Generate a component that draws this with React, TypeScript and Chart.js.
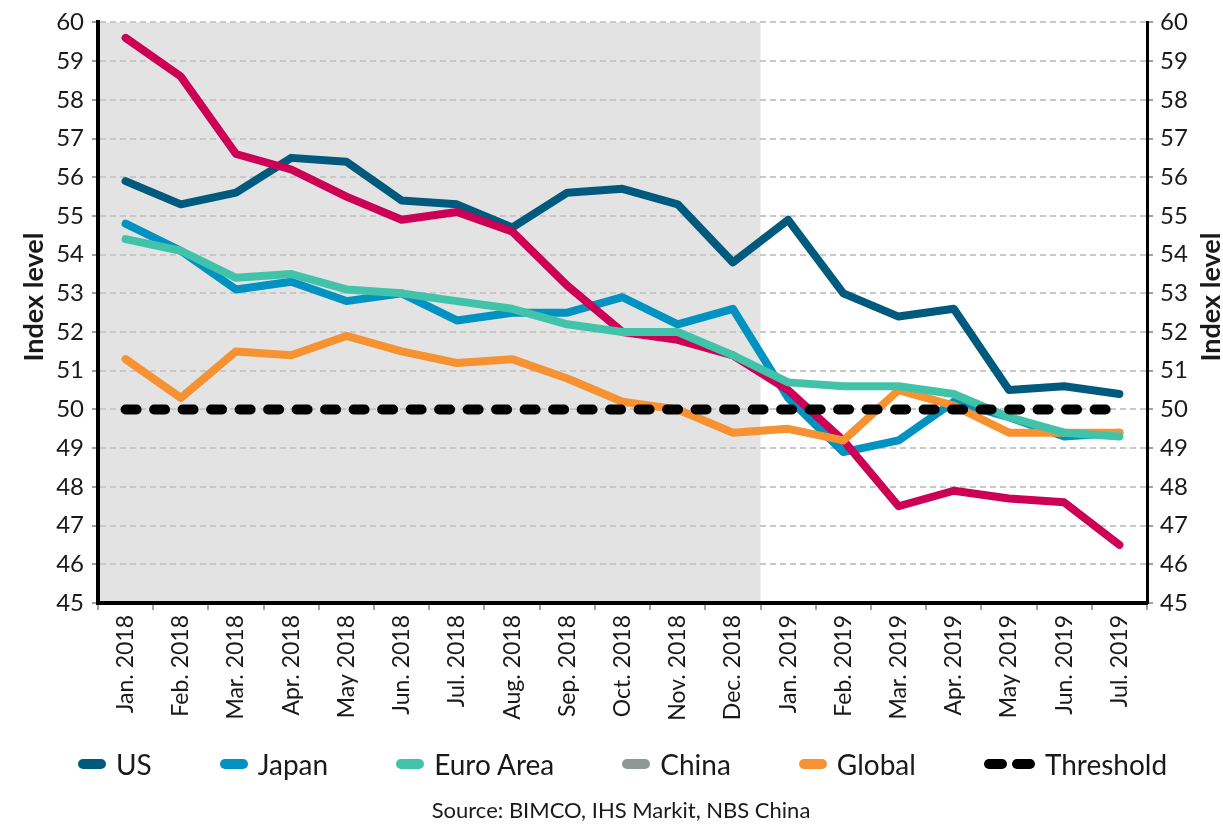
import React, { useEffect, useRef } from "react";
import { Chart, registerables } from "chart.js";

Chart.register(...registerables);

const categories = [
  "Jan. 2018", "Feb. 2018", "Mar. 2018", "Apr. 2018", "May 2018", "Jun. 2018",
  "Jul. 2018", "Aug. 2018", "Sep. 2018", "Oct. 2018", "Nov. 2018", "Dec. 2018",
  "Jan. 2019", "Feb. 2019", "Mar. 2019", "Apr. 2019", "May 2019", "Jun. 2019", "Jul. 2019",
];

const usValues = [55.9, 55.3, 55.6, 56.5, 56.4, 55.4, 55.3, 54.7, 55.6, 55.7, 55.3, 53.8, 54.9, 53.0, 52.4, 52.6, 50.5, 50.6, 50.4];
const japanValues = [54.8, 54.1, 53.1, 53.3, 52.8, 53.0, 52.3, 52.5, 52.5, 52.9, 52.2, 52.6, 50.3, 48.9, 49.2, 50.2, 49.8, 49.3, 49.4];
const euroValues = [54.4, 54.1, 53.4, 53.5, 53.1, 53.0, 52.8, 52.6, 52.2, 52.0, 52.0, 51.4, 50.7, 50.6, 50.6, 50.4, 49.8, 49.4, 49.3];
const chinaValues = [59.6, 58.6, 56.6, 56.2, 55.5, 54.9, 55.1, 54.6, 53.2, 52.0, 51.8, 51.4, 50.5, 49.2, 47.5, 47.9, 47.7, 47.6, 46.5];
const globalValues = [51.3, 50.3, 51.5, 51.4, 51.9, 51.5, 51.2, 51.3, 50.8, 50.2, 50.0, 49.4, 49.5, 49.2, 50.5, 50.1, 49.4, 49.4, 49.4];
const thresholdValues = [50, 50, 50, 50, 50, 50, 50, 50, 50, 50, 50, 50, 50, 50, 50, 50, 50, 50, 50];

const yMin = 45;
const yMax = 60;
const yStep = 1;
const shadeLastIndex = 11; // Dec. 2018
const yAxisTitle = "Index level";
const sourceText = "Source: BIMCO, IHS Markit, NBS China";

const legendItems = [
  { label: "US", color: "#005a7e", dashed: false },
  { label: "Japan", color: "#0093c1", dashed: false },
  { label: "Euro Area", color: "#41c3aa", dashed: false },
  { label: "China", color: "#8f9896", dashed: false },
  { label: "Global", color: "#f79233", dashed: false },
  { label: "Threshold", color: "#000000", dashed: true },
];

const W = 1223;
const H = 824;
const FONT = "Lato, 'Open Sans', sans-serif";
const TEXT = "#1a1a1a";

const shadePlugin = {
  id: "shade",
  beforeDraw(chart: any) {
    const { ctx, chartArea, scales } = chart;
    const x = scales.x;
    const right = (x.getPixelForValue(shadeLastIndex) + x.getPixelForValue(shadeLastIndex + 1)) / 2;
    ctx.save();
    ctx.fillStyle = "#e3e3e3";
    ctx.fillRect(chartArea.left, chartArea.top, right - chartArea.left, chartArea.bottom - chartArea.top);
    ctx.restore();
  },
};

export default function App() {
  const ref = useRef<HTMLCanvasElement | null>(null);

  useEffect(() => {
    if (!ref.current) return;
    const tickFont = { family: FONT, size: 24 };
    const line = (label: string, data: number[], color: string, order: number, extra: any = {}) => ({
      label,
      data,
      borderColor: color,
      backgroundColor: color,
      borderWidth: 8,
      pointRadius: 0,
      tension: 0,
      fill: false,
      borderCapStyle: "round",
      borderJoinStyle: "round",
      order,
      ...extra,
    });
    const chart = new Chart(ref.current, {
      type: "line",
      data: {
        labels: categories,
        datasets: [
          line("US", usValues, "#005a7e", 5),
          line("Japan", japanValues, "#0093c1", 4),
          line("Euro Area", euroValues, "#41c3aa", 1),
          line("China", chinaValues, "#cc0055", 3),
          line("Global", globalValues, "#f79233", 2),
          line("Threshold", thresholdValues, "#000000", 0, { borderDash: [11, 17.5], borderWidth: 10, borderCapStyle: "round" }),
        ],
      },
      options: {
        animation: false,
        responsive: false,
        maintainAspectRatio: false,
        layout: { padding: { top: 20, left: 0, right: 0, bottom: 0 } },
        plugins: { legend: { display: false }, tooltip: { enabled: false } },
        scales: {
          x: {
            type: "category",
            offset: true,
            grid: { offset: true, drawOnChartArea: false, drawTicks: true, tickLength: 7, color: "#a0a0a0", lineWidth: 2 },
            border: { color: "#000000", width: 4 },
            ticks: { minRotation: 90, maxRotation: 90, autoSkip: false, font: { family: FONT, size: 23 }, color: TEXT, padding: 5 },
            afterFit: (s: any) => { s.height = H - 603; },
          },
          y: {
            position: "left",
            min: yMin,
            max: yMax,
            ticks: { stepSize: yStep, font: tickFont, color: TEXT, padding: 8 },
            grid: { color: "#c8c8c8", lineWidth: 2, drawTicks: true, tickLength: 6, tickColor: "#a0a0a0" },
            border: { color: "#000000", width: 4, dash: [6, 4] },
            afterFit: (s: any) => { s.width = 98; },
          },
          y2: {
            position: "right",
            min: yMin,
            max: yMax,
            ticks: { stepSize: yStep, font: tickFont, color: TEXT, padding: 7 },
            grid: { drawOnChartArea: false, drawTicks: true, tickLength: 6, color: "#a0a0a0", lineWidth: 2 },
            border: { color: "#000000", width: 3 },
            afterFit: (s: any) => { s.width = W - 1147; },
          },
        },
      },
      plugins: [shadePlugin],
    } as any);
    return () => chart.destroy();
  }, []);

  const pill = (color: string, w: number) => (
    <span style={{ display: "inline-block", width: w, height: 10, borderRadius: 5, background: color }} />
  );

  const titleStyle = (cx: number): React.CSSProperties => ({
    position: "absolute",
    left: cx - 100,
    top: 297 - 16,
    width: 200,
    height: 32,
    lineHeight: "32px",
    textAlign: "center",
    transform: "rotate(-90deg)",
    fontFamily: FONT,
    fontWeight: 700,
    fontSize: 27,
    color: TEXT,
    whiteSpace: "nowrap",
  });

  return (
    <div style={{ position: "absolute", left: 0, top: 0, width: W, height: H, background: "#ffffff", overflow: "hidden" }}>
      <canvas ref={ref} width={W} height={H} style={{ position: "absolute", left: 0, top: 0, width: W, height: H }} />
      <div style={titleStyle(33)}>{yAxisTitle}</div>
      <div style={titleStyle(1210)}>{yAxisTitle}</div>
      <div
        style={{
          position: "absolute",
          left: 98,
          width: 1049,
          top: 746,
          height: 36,
          display: "flex",
          justifyContent: "center",
          alignItems: "center",
          gap: 68,
          fontFamily: FONT,
          fontSize: 28,
          color: TEXT,
          whiteSpace: "nowrap",
        }}
      >
        {legendItems.map((it) => (
          <div key={it.label} style={{ display: "flex", alignItems: "center" }}>
            {it.dashed ? (
              <span style={{ display: "inline-flex", gap: 5 }}>
                {pill(it.color, 23)}
                {pill(it.color, 23)}
              </span>
            ) : (
              pill(it.color, 28)
            )}
            <span style={{ marginLeft: 10 }}>{it.label}</span>
          </div>
        ))}
      </div>
      <div
        style={{
          position: "absolute",
          left: 0,
          width: 1242,
          top: 796,
          height: 28,
          lineHeight: "28px",
          textAlign: "center",
          fontFamily: FONT,
          fontSize: 22,
          color: TEXT,
        }}
      >
        {sourceText}
      </div>
    </div>
  );
}
